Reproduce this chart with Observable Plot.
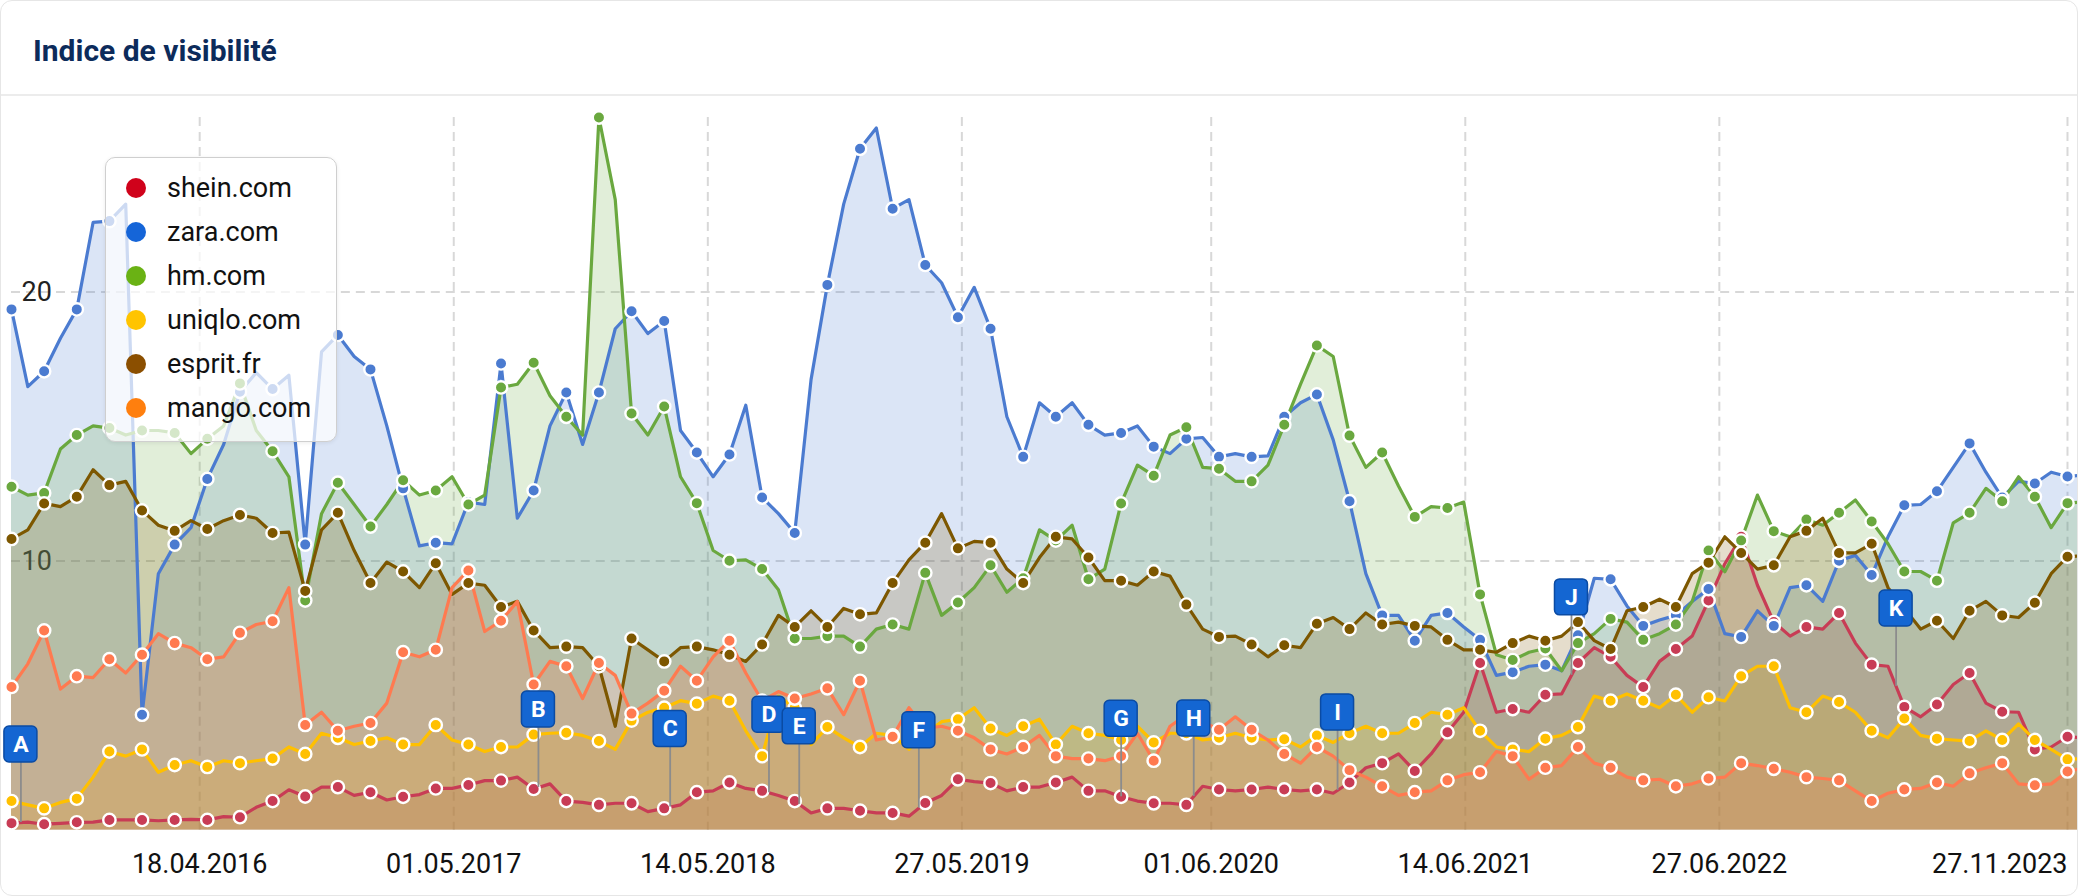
<!DOCTYPE html>
<html><head><meta charset="utf-8">
<script src="https://cdn.jsdelivr.net/npm/d3@7"></script>
<script src="https://cdn.jsdelivr.net/npm/@observablehq/plot@0.6"></script>
<style>
html,body{margin:0;padding:0;background:#fff;}
#card{position:absolute;left:0;top:0;width:2078px;height:896px;box-sizing:border-box;border:1px solid #e6e6e6;border-radius:12px;overflow:hidden;background:#fff;font-family:Roboto,sans-serif;}
#title{position:absolute;left:32px;top:35px;font-size:30px;line-height:30px;font-weight:700;color:#0c2b5b;white-space:nowrap;}
#divider{position:absolute;left:0;top:93px;width:100%;height:2px;background:#ececec;}
#chart{position:absolute;left:-1px;top:99px;}
#legend{position:absolute;left:104px;top:156px;width:230px;height:283px;border:1.5px solid #cfcfcf;border-radius:10px;background:rgba(255,255,255,0.72);box-shadow:0 1px 4px rgba(0,0,0,0.08);}
.dot{position:absolute;left:20px;width:20px;height:20px;border-radius:50%;}
.lbl{position:absolute;left:61px;font-size:27px;line-height:27px;color:#111;white-space:nowrap;}
</style>
</head><body>
<div id="card">
  <div id="title">Indice de visibilité</div>
  <div id="divider"></div>
  <div id="chart"></div>
  <div id="legend"></div>
</div>
<script>
// ---- data (sampled on a regular grid from 13.07.2015 to 27.11.2023) ----
const startDate = "2015-07-13";
const endDate = "2023-11-27";
const names = ["shein.com", "zara.com", "hm.com", "uniqlo.com", "esprit.fr", "mango.com"];
const lineColors = ["#c83c55", "#4b7bd0", "#6aa83f", "#ffc000", "#7d5700", "#ff7a50"];
const legendColors = ["#d0021b", "#1565d8", "#6ab214", "#ffc400", "#8b4f00", "#ff7f0e"];

const shein = [0.26,0.30,0.22,0.25,0.29,0.30,0.38,0.38,0.38,0.35,
 0.38,0.40,0.38,0.50,0.48,0.85,1.08,1.50,1.25,1.60,
 1.60,1.29,1.41,1.12,1.24,1.32,1.55,1.55,1.68,1.84,
 1.84,1.97,1.53,1.72,1.08,1.03,0.94,1.00,1.00,0.69,
 0.81,0.94,1.41,1.46,1.77,1.55,1.46,1.29,1.08,0.64,
 0.81,0.81,0.72,0.64,0.64,0.52,1.01,1.29,1.89,1.80,
 1.75,1.46,1.60,1.60,1.77,1.97,1.46,1.46,1.24,1.08,
 1.00,1.00,0.94,1.63,1.51,1.46,1.51,1.60,1.51,1.46,
 1.51,1.37,1.77,2.32,2.49,2.83,2.20,2.83,3.64,4.38,
 6.21,4.38,4.50,4.38,5.03,5.06,6.21,6.78,6.44,5.75,
 5.32,6.27,6.73,7.21,8.53,9.90,10.90,9.10,7.73,7.21,
 7.55,7.47,8.07,6.95,6.15,6.09,4.58,4.21,4.67,5.41,
 5.84,4.72,4.40,4.38,3.00,3.09,3.47,3.43];

const zara = [19.35,16.48,17.05,18.28,19.35,22.58,22.63,23.26,4.29,9.53,
 10.61,11.24,13.05,14.33,16.29,17.00,16.39,16.90,10.61,17.77,
 18.40,17.60,17.12,15.02,12.70,10.56,10.68,10.64,12.19,12.10,
 17.34,11.59,12.62,15.02,16.26,14.33,16.26,18.63,19.28,18.45,
 18.92,14.85,14.03,13.13,13.96,15.79,12.36,11.76,11.04,16.74,
 20.26,23.26,25.32,26.09,23.09,23.43,21.00,20.34,19.06,20.17,
 18.63,15.36,13.87,15.88,15.36,15.88,15.06,14.68,14.76,15.02,
 14.25,13.99,14.54,14.59,13.87,13.99,13.87,13.91,15.36,15.88,
 16.19,14.50,12.22,9.53,7.98,7.98,7.04,7.98,8.07,7.55,
 7.07,5.75,5.87,6.09,6.15,5.92,7.24,9.36,9.32,8.33,
 7.59,7.81,7.98,8.50,8.96,7.30,7.18,8.15,7.59,9.01,
 9.10,8.50,10.01,10.21,9.48,10.90,12.07,12.10,12.59,13.48,
 14.37,13.30,12.36,12.96,12.88,13.30,13.14,13.20];

const hm = [12.76,12.45,12.53,14.16,14.68,15.02,14.94,14.68,14.85,14.85,
 14.76,13.99,14.54,15.02,16.60,14.85,14.08,13.13,8.53,11.76,
 12.91,12.10,11.28,12.10,13.00,12.45,12.62,13.13,12.10,12.45,
 16.45,16.57,17.37,16.14,15.36,14.68,26.48,23.43,15.48,14.68,
 15.74,13.13,12.15,10.39,10.01,10.04,9.70,8.93,7.12,7.12,
 7.21,7.21,6.82,7.47,7.64,7.47,9.56,7.98,8.46,9.01,
 9.84,8.84,9.36,11.16,10.76,11.33,9.32,9.70,12.14,13.56,
 13.17,14.68,14.97,13.48,13.43,12.96,12.96,13.56,15.06,16.57,
 18.01,17.60,14.66,13.48,14.03,12.79,11.64,12.02,11.97,12.19,
 8.76,6.52,6.32,6.61,6.75,5.92,6.95,7.30,7.85,7.73,
 7.07,7.30,7.64,8.50,10.39,9.60,10.76,12.45,11.11,10.90,
 11.54,11.33,11.79,12.27,11.47,10.64,9.61,9.61,9.27,11.42,
 11.79,12.70,12.22,13.13,12.39,11.24,12.15,12.20];

const uniqlo = [1.08,0.94,0.81,1.03,1.17,1.97,2.92,2.75,3.00,2.15,
 2.42,2.58,2.35,2.58,2.49,2.58,2.66,3.09,2.83,3.60,
 3.43,3.18,3.31,3.43,3.18,3.18,3.91,3.35,3.18,2.92,
 3.09,3.09,3.55,3.60,3.62,3.52,3.31,3.00,4.07,4.38,
 4.55,4.81,4.70,4.98,4.81,3.69,2.75,4.98,4.55,3.18,
 3.83,3.43,3.09,3.60,3.52,3.00,3.60,4.03,4.12,4.55,
 3.78,3.52,3.86,4.12,3.18,3.86,3.60,3.52,3.35,3.86,
 3.26,3.60,3.60,3.35,3.43,3.60,3.43,3.35,3.38,3.09,
 3.52,3.26,3.60,3.86,3.60,3.60,3.98,4.38,4.29,4.55,
 3.69,3.09,3.00,2.92,3.40,3.52,3.83,4.98,4.81,5.06,
 4.81,4.55,5.03,4.38,4.94,4.80,5.72,6.09,6.09,4.55,
 4.38,4.98,4.76,4.38,3.69,3.43,4.15,3.52,3.40,3.35,
 3.31,3.69,3.35,3.95,3.35,3.00,2.63,2.66];

const esprit = [10.82,11.16,12.14,12.02,12.39,13.39,12.82,12.96,11.88,11.33,
 11.12,11.50,11.19,11.50,11.71,11.59,11.04,11.07,8.89,11.16,
 11.79,10.39,9.18,9.96,9.61,9.01,9.92,8.76,9.18,9.10,
 8.29,8.50,7.42,6.78,6.82,6.78,6.09,3.86,7.12,6.70,
 6.27,6.78,6.82,6.70,6.52,6.27,6.90,7.98,7.55,8.15,
 7.55,8.24,8.02,8.07,9.18,10.04,10.68,11.76,10.47,10.73,
 10.68,9.70,9.18,10.13,10.90,10.82,10.13,9.27,9.27,9.10,
 9.61,9.44,8.38,7.47,7.18,7.21,6.90,6.44,6.87,6.78,
 7.67,7.90,7.47,8.07,7.64,7.73,7.59,7.55,7.07,6.70,
 6.70,6.61,6.95,7.21,7.04,7.21,7.73,7.04,6.73,8.15,
 8.29,8.58,8.29,9.53,9.94,10.90,10.30,9.70,9.84,10.90,
 11.12,11.59,10.30,10.30,10.64,9.01,8.24,7.47,7.78,7.12,
 8.15,8.50,7.98,7.90,8.45,9.53,10.16,10.20];

const mango = [5.32,6.18,7.42,5.24,5.72,5.67,6.35,5.84,6.52,7.30,
 6.95,6.78,6.35,6.44,7.33,7.64,7.76,9.01,3.91,4.38,
 3.69,3.86,3.98,4.72,6.61,6.44,6.70,9.01,9.65,7.38,
 7.78,8.50,5.41,6.27,6.09,4.89,6.21,5.75,4.33,4.72,
 5.18,6.09,5.55,6.44,7.04,5.84,4.81,5.15,4.89,5.06,
 5.27,4.29,5.55,3.35,3.47,4.55,3.78,3.86,3.69,3.43,
 3.00,2.83,3.09,3.52,2.75,2.66,2.66,2.58,2.75,3.60,
 2.58,3.86,4.29,4.03,3.73,4.21,3.73,3.35,2.83,2.49,
 3.09,2.75,2.23,1.97,1.63,1.29,1.41,1.46,1.85,2.06,
 2.15,2.92,2.75,1.89,2.32,2.40,3.09,2.49,2.32,1.97,
 1.85,1.89,1.63,1.72,1.92,1.97,2.49,2.40,2.28,2.15,
 1.97,1.92,1.85,1.46,1.08,1.37,1.51,1.55,1.77,1.63,
 2.11,2.32,2.49,1.72,1.67,1.72,2.18,2.32];

const tickDates = ["2016-04-18","2017-05-01","2018-05-14","2019-05-27","2020-06-01","2021-06-14","2022-06-27","2023-11-27"];
const yTicks = [10, 20];
const flagLabels = ["A","B","C","D","E","F","G","H","I","J","K"];
const flagDates = ["2015-07-27","2017-09-04","2018-03-19","2018-08-13","2018-09-27","2019-03-24","2020-01-19","2020-05-06","2020-12-06","2021-11-19","2023-03-17"];

// ---- build ----
const DAY = 864e5;
const t0 = new Date(startDate + "T00:00:00Z").getTime();
const t1 = new Date(endDate + "T00:00:00Z").getTime();
const nSteps = 126;
const step = (t1 - t0) / nSteps;
const valuesList = [shein, zara, hm, uniqlo, esprit, mango];
const rowsBy = valuesList.map((vals, k) => vals.map((v, i) => ({date: new Date(t0 + i * step), v, i, name: names[k]})));
const fmt = d3.utcFormat("%d.%m.%Y");
const ticks = tickDates.map(s => new Date(s + "T00:00:00Z"));
const flags = flagLabels.map((label, k) => {
  const d = new Date(flagDates[k] + "T00:00:00Z");
  const f = (d.getTime() - t0) / step;
  const a = Math.floor(f);
  const v = shein[a] + (shein[a + 1] - shein[a]) * (f - a);
  return {label, date: d, v};
});

const W = 2078, H = 797;
const marks = [];
marks.push(Plot.ruleX(ticks, {x: d => d, stroke: "#d8d8d8", strokeWidth: 2, strokeDasharray: "9,6"}));
marks.push(Plot.ruleY(yTicks, {y: d => d, stroke: "#d8d8d8", strokeWidth: 2, strokeDasharray: "9,6"}));
marks.push(Plot.text(yTicks, {y: d => d, frameAnchor: "left", dx: 10, textAnchor: "start", text: d => String(d), fontSize: 27, fill: "#222"}));
rowsBy.forEach((rows, k) => {
  marks.push(Plot.areaY(rows, {x: "date", y: "v", fill: lineColors[k], fillOpacity: 0.2, clip: true}));
});
rowsBy.forEach((rows, k) => {
  marks.push(Plot.lineY(rows, {x: "date", y: "v", stroke: lineColors[k], strokeWidth: 3.2, strokeLinejoin: "round", clip: true}));
});
rowsBy.forEach((rows, k) => {
  marks.push(Plot.dot(rows.filter(d => d.i % 2 === 0 && d.i <= nSteps), {x: "date", y: "v", r: 6.2, fill: lineColors[k], stroke: "white", strokeWidth: 2.4}));
});
marks.push(Plot.ruleX(flags, {x: "date", y1: "v", y2: "v", insetTop: -60, stroke: "#8c8c8c", strokeWidth: 1.8}));
marks.push(Plot.rect(flags, {x1: "date", x2: "date", y1: "v", y2: "v", insetLeft: -16.5, insetRight: -16.5, insetTop: -96, insetBottom: 60, rx: 5, fill: "#1466d2", stroke: "#0b4ba3", strokeWidth: 1.5}));
marks.push(Plot.text(flags, {x: "date", y: "v", dy: -78, text: "label", fill: "white", fontSize: 23, fontWeight: "bold"}));
marks.push(Plot.text(ticks.slice(0, -1), {x: d => d, frameAnchor: "bottom", lineAnchor: "top", dy: 24, text: d => fmt(d), fontSize: 27, fill: "#111"}));
marks.push(Plot.text(ticks.slice(-1), {x: d => d, frameAnchor: "bottom", lineAnchor: "top", dy: 24, textAnchor: "end", text: d => fmt(d), fontSize: 27, fill: "#111"}));

const marginLeft = 11, marginRight = 0, marginTop = 17, marginBottom = 67;
const extraDays = 10 / ((W - marginLeft - marginRight - 10) / ((t1 - t0) / DAY));
const chart = Plot.plot({
  width: W, height: H,
  marginLeft, marginRight, marginTop, marginBottom,
  x: {type: "utc", domain: [new Date(t0), new Date(t1 + extraDays * DAY)], axis: null},
  y: {domain: [0, 26.48], axis: null},
  style: {fontFamily: "Roboto, sans-serif", background: "transparent", overflow: "visible"},
  marks
});
document.getElementById("chart").append(chart);

// legend
const legend = document.getElementById("legend");
names.forEach((n, k) => {
  const cy = 30 + k * 44;
  const dot = document.createElement("div");
  dot.className = "dot"; dot.style.top = (cy - 10) + "px"; dot.style.background = legendColors[k];
  const lbl = document.createElement("div");
  lbl.className = "lbl"; lbl.style.top = (cy - 13) + "px"; lbl.textContent = n;
  legend.append(dot, lbl);
});
</script>
</body></html>
